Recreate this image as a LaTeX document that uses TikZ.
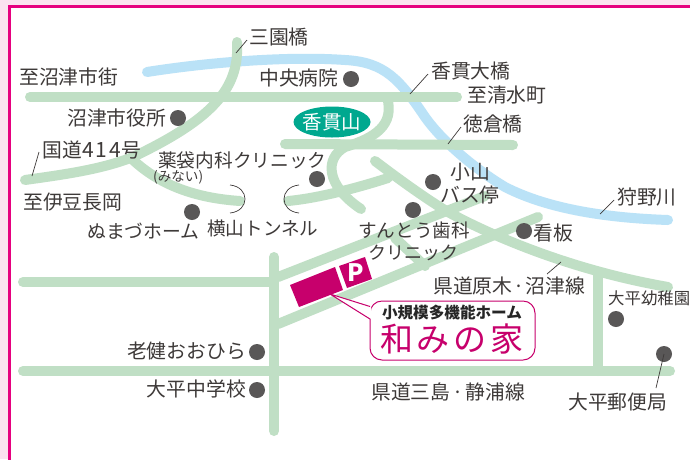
\documentclass[tikz,border=0pt]{standalone}
\usepackage{fontspec}
\usetikzlibrary{shapes.geometric}
\setmainfont{Noto Sans CJK JP}
\definecolor{road}{HTML}{C0DFC5}
\definecolor{river}{HTML}{BAE2F7}
\definecolor{mag}{HTML}{C7006C}
\definecolor{frameline}{HTML}{E6007F}
\definecolor{framebg}{HTML}{FBE3F0}
\definecolor{dotc}{HTML}{595757}
\definecolor{inkc}{HTML}{3E3A39}
\definecolor{hill}{HTML}{00A88F}
\newcommand{\fsz}[1]{\fontsize{#1}{20}\selectfont}
\tikzset{
 x=1pt,y=-1pt,
 roadline/.style={draw=road,line width=10pt,line cap=round,line join=round},
 riverline/.style={draw=river,line width=10pt,line cap=round,line join=round},
 lbl/.style={anchor=west,inner sep=0pt,text=inkc,font=\fsz{19.8}},
 lbr/.style={anchor=east,inner sep=0pt,text=inkc,font=\fsz{19.8}},
 dotm/.style={circle,fill=dotc,minimum size=16pt,inner sep=0pt},
 leader/.style={draw=inkc,line width=0.7pt},
 tunnel/.style={draw=inkc,line width=0.7pt},
}
\begin{document}
\begin{tikzpicture}
\useasboundingbox (0,0) rectangle (690,459);
\clip (0,0) rectangle (690,459);
\fill[framebg] (0,0) rectangle (690,459);
\fill[white,draw=frameline,line width=2.4pt] (9.5,6.5) rectangle (720,480);
% river
\draw[riverline] (147,72) .. controls (210,62) and (290,56) .. (345,60) .. controls (385,62) and (400,80) .. (425,117) .. controls (445,145) and (480,172) .. (505,187) .. controls (550,210) and (610,218) .. (668,220);
% roads
\draw[roadline] (30,97) -- (457,97);
\draw[roadline] (237,42) .. controls (240,90) and (210,120) .. (133,157) .. controls (100,170) and (60,175) .. (25,180);
\draw[roadline] (133,160) .. controls (160,185) and (195,198) .. (240,201);
\draw[roadline] (288,201) .. controls (320,198) and (360,187) .. (388,178);
\draw[roadline] (285,144) -- (513,145);
\draw[roadline] (387,97) .. controls (395,125) and (375,138) .. (345,147) .. controls (325,158) and (325,185) .. (361,209);
\draw[roadline] (375,161) .. controls (400,180) and (425,198) .. (448,212) .. controls (490,235) and (570,270) .. (668,287);
\draw[roadline] (278,277) -- (485,196);
\draw[roadline] (278,324) -- (538,217);
\draw[roadline] (395,238) -- (425,266);
\draw[roadline] (274,257) -- (274,431);
\draw[roadline] (23,282) -- (274,282);
\draw[roadline] (23,371) -- (670,371);
\draw[roadline] (598,272) -- (598,371);
% hill
\node[ellipse,fill=hill,minimum width=77pt,minimum height=31pt,inner sep=0pt] (hillnode) at (332,122) {};
\node[inner sep=0pt,text=white,font=\fsz{19.5}] (hilltext) at (332,122) {香貫山};
% tunnel marks
\draw[tunnel] (230,185) .. controls (250,187) and (250,211) .. (230,213);
\draw[tunnel] (299,185) .. controls (279,187) and (279,211) .. (299,213);
% dots
\node[dotm] (d1) at (351,79) {};
\node[dotm] (d2) at (178,118) {};
\node[dotm] (d3) at (192,212) {};
\node[dotm] (d4) at (317,179) {};
\node[dotm] (d5) at (433,182) {};
\node[dotm] (d6) at (413,210) {};
\node[dotm] (d7) at (524,231) {};
\node[dotm] (d8) at (257,352) {};
\node[dotm] (d9) at (257,390) {};
\node[dotm] (d10) at (616,319) {};
\node[dotm] (d11) at (664,354) {};
% labels
\node[lbl] (t1) at (249,37) {三園橋};
\node[lbl] (t2) at (19,77) {至沼津市街};
\node[lbl] (t3) at (259,78) {中央病院};
\node[lbl] (t4) at (67,118) {沼津市役所};
\node[lbl] (t5) at (42,150) {国道{\fsz{21}\kern1pt 4\kern1.5pt 1\kern1.5pt 4\kern0.5pt}号};
\node[lbl,font=\fsz{18.7}] (t6) at (158,160) {薬袋内科クリニック};
\node[lbl,font=\fsz{13.6}] (t7) at (153,177) {(みない)};
\node[lbl] (t8) at (23,202) {至伊豆長岡};
\node[lbl,font=\fsz{18.8}] (t9) at (87,231) {ぬまづホーム};
\node[lbl,font=\fsz{18.6}] (t10) at (207,228) {横山トンネル};
\node[lbl] (t11) at (431,71) {香貫大橋};
\node[lbl] (t12) at (467,95) {至清水町};
\node[lbl] (t13) at (463,124) {徳倉橋};
\node[lbl] (t14) at (450,172) {小山};
\node[lbl] (t15) at (440,195) {バス停};
\node[lbl] (t16) at (617,197) {狩野川};
\node[lbl,font=\fsz{18.6}] (t17) at (358,230) {すんとう歯科};
\node[lbl,font=\fsz{18}] (t18) at (368,253) {クリニック};
\node[lbl] (t19) at (533,233) {看板};
\node[lbl] (t20) at (433,286) {県道原木{\kern1pt}·{\kern1pt}沼津線};
\node[lbl,font=\fsz{16.4}] (t21) at (608,298) {大平幼稚園};
\node[lbl] (t22) at (371,392) {県道三島{\kern2pt}·{\kern2pt}静浦線};
\node[lbl] (t23) at (568,402) {大平郵便局};
\node[lbr] (t24) at (246,351) {老健おおひら};
\node[lbr] (t25) at (246,389) {大平中学校};
% leaders
\coordinate (b1) at (236,53);
\coordinate (b2) at (32,176);
\coordinate (b3) at (410,94);
\coordinate (b4) at (448,144);
\coordinate (b5) at (600,214);
\coordinate (b6) at (547,274);
\coordinate (a1) at (247,40);
\coordinate (a2) at (39,152);
\coordinate (a3) at (428,74);
\coordinate (a4) at (461,127);
\coordinate (a5) at (614,200);
\coordinate (a6) at (561,262);
\coordinate (a7) at (656,388);
\draw[leader] (a1) -- (b1);
\draw[leader] (a2) -- (b2);
\draw[leader] (a3) -- (b3);
\draw[leader] (a4) -- (b4);
\draw[leader] (a5) -- (b5);
\draw[leader] (a6) -- (b6);
\draw[leader] (a7) -- (d11.center);
% building
\fill[mag] (290,285) -- (335,267) -- (343,290) -- (299,307) -- cycle;
\fill[mag] (339,266) -- (365,257) -- (372,279) -- (347,288) -- cycle;
\node[text=white,inner sep=0pt,font=\bfseries\fsz{24}] (ptext) at (356,273) {P};
% callout
\draw[mag,line width=1pt,fill=white,rounded corners=12pt] (370,301) rectangle (535,360);
\coordinate (tip) at (330,294);
\fill[white] (tip) -- (371,306.5) -- (371,319) -- cycle;
\draw[mag,line width=1pt] (370,306.5) -- (tip) -- (370,319);
\node[inner sep=0pt,text=black!85,font=\bfseries\fsz{15.6}] (name1) at (452,313) {小規模多機能ホーム};
\node[inner sep=0pt,text=mag,font=\fsz{33}] (name2) at (452,339) {和\kern4pt み\kern4pt の\kern4pt 家};
\end{tikzpicture}
\end{document}
